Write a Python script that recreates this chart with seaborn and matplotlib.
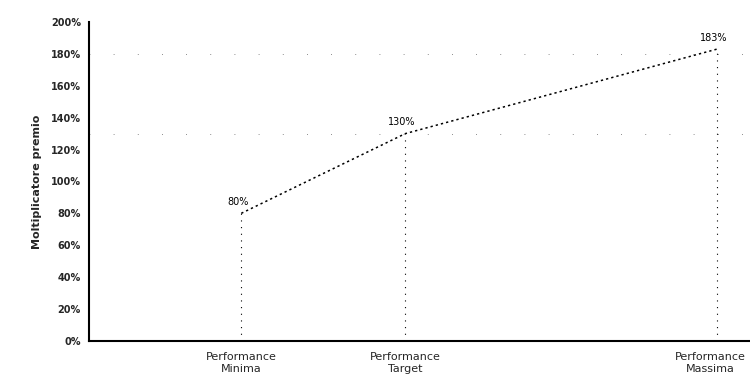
import matplotlib
matplotlib.use("Agg")
import matplotlib.pyplot as plt
import matplotlib.transforms as mtransforms
import seaborn as sns
import pandas as pd
from matplotlib.ticker import FuncFormatter

# data
livelli = ["Performance\nMinima", "Performance\nTarget", "Performance\nMassima"]
performance = [80, 100, 138]
moltiplicatore = [80, 130, 183]
etichette = ["80%", "130%", "183%"]

df = pd.DataFrame({"perf": performance, "molt": moltiplicatore})

sns.set_theme(style="white")
plt.rcParams['font.family'] = ['DejaVu Sans']

fig = plt.figure(figsize=(7.5, 3.8), dpi=100)
ax = fig.add_axes([0.119, 0.103, 0.880, 0.839])

sns.lineplot(data=df, x="perf", y="molt", ax=ax, color="black",
             linestyle=(0, (1.5, 2)), linewidth=1.1)

# linee verticali tratteggiate fino a 0
for p, m in zip(performance, moltiplicatore):
    ax.vlines(p, 0, m, colors="black", linestyles=(0, (1, 5)), linewidth=0.8)

# linee orizzontali leggere
for y in [180, 130]:
    ax.axhline(y, color="black", linestyle=(0, (1, 28)),
               linewidth=0.6, alpha=0.6)

# etichette valori
for p, m, t in zip(performance, moltiplicatore, etichette):
    ax.text(p - 0.4, m + 4, t, fontsize=7, ha="center", va="bottom", color="black")

ax.set_xlim(61.46, 141.95)
ax.set_ylim(0, 200)
ax.set_yticks(range(0, 201, 20))
ax.yaxis.set_major_formatter(FuncFormatter(lambda v, _: f"{int(v)}%"))
ax.set_xticks(performance)
ax.set_xticklabels(livelli, fontsize=8)
ax.tick_params(axis="y", labelsize=7, length=0, pad=6)
ax.tick_params(axis="x", length=0, pad=8)
for lbl in ax.get_yticklabels():
    lbl.set_fontweight("bold")
# l'ultima etichetta spostata un poco a sinistra per non uscire dal bordo
ultima = ax.get_xticklabels()[-1]
ultima.set_transform(ultima.get_transform() +
                     mtransforms.ScaledTranslation(-5 / 72, 0, fig.dpi_scale_trans))
ax.set_xlabel("")
ax.set_ylabel("Moltiplicatore premio", fontsize=8, fontweight="bold", labelpad=6)

for s in ["top", "right"]:
    ax.spines[s].set_visible(False)
for s in ["left", "bottom"]:
    ax.spines[s].set_color("black")
    ax.spines[s].set_linewidth(1.5)

fig.savefig("out.png", dpi=100)
